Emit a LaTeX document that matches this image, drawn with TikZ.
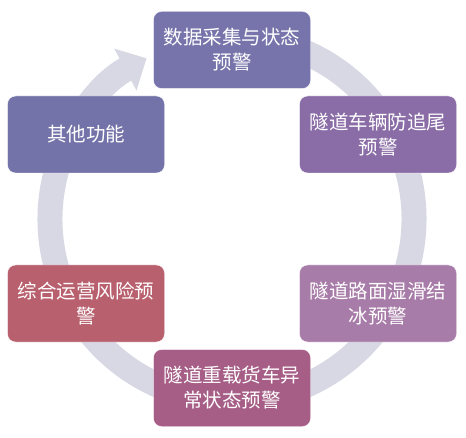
\documentclass[tikz,border=0pt]{standalone}
\usepackage{fontspec}
\setmainfont{Noto Sans CJK SC}
\usetikzlibrary{arrows.meta}
\definecolor{ringgray}{RGB}{216,216,228}
\definecolor{collectblue}{RGB}{118,116,170}
\definecolor{otherblue}{RGB}{116,115,169}
\definecolor{rearpurple}{RGB}{138,108,166}
\definecolor{icemauve}{RGB}{168,124,168}
\definecolor{truckplum}{RGB}{166,94,134}
\definecolor{riskrose}{RGB}{184,96,110}

\begin{document}
\begin{tikzpicture}[x=1pt,y=1pt]
    \useasboundingbox (0,0) rectangle (466,437);
    \draw[ringgray, line width=25pt, -{Triangle[width=46pt,length=24pt]}]
      (232,218) ++(80:182) arc[start angle=80, end angle=-242, radius=182];
    \begin{scope}[rounded corners=8pt, text=white, align=center, draw=white, thin,
        font=\fontsize{19.5}{25}\selectfont, minimum width=157pt, minimum height=77pt, inner sep=0pt]
      \node[fill=collectblue, draw] (collect) at (232,387) {数据采集与状态\\预警};
      \node[fill=rearpurple, draw] (rear) at (378,302.5) {隧道车辆防追尾\\预警};
      \node[fill=icemauve, draw] (ice) at (378,133.5) {隧道路面湿滑结\\冰预警};
      \node[fill=truckplum, draw] (truck) at (232,49) {隧道重载货车异\\常状态预警};
      \node[fill=riskrose, draw] (risk) at (86,133.5) {综合运营风险预\\警};
      \node[fill=otherblue, draw] (other) at (86,302.5) {其他功能};
    \end{scope}
\end{tikzpicture}
\end{document}
